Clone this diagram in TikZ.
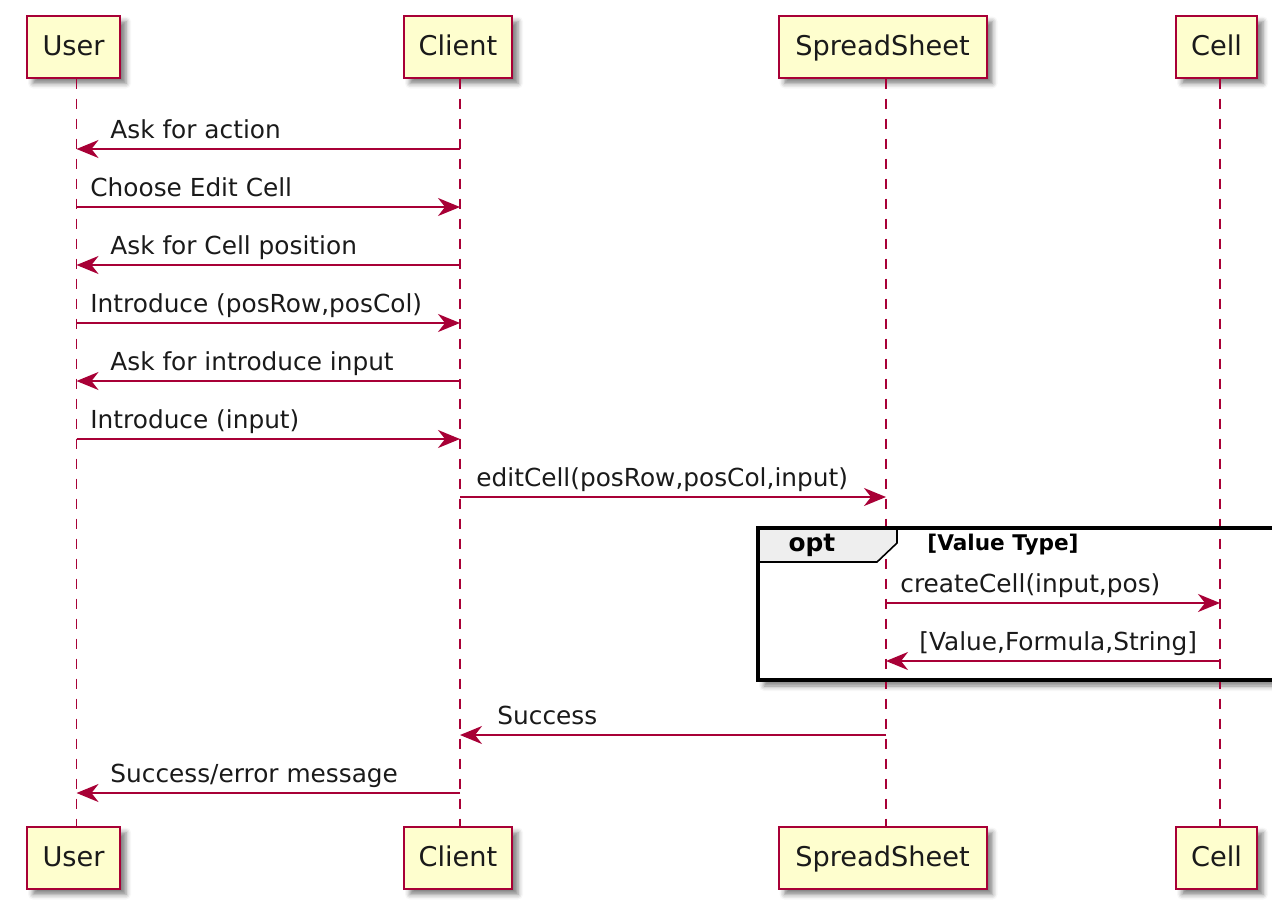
\documentclass[tikz,border=0pt]{standalone}
\usepackage{fontspec}
\setmainfont{DejaVu Sans}
\usetikzlibrary{arrows.meta,shadows.blur}
\definecolor{pumlred}{HTML}{A80036}
\definecolor{pumlfill}{HTML}{FEFECE}
\definecolor{pumltab}{HTML}{EEEEEE}
\definecolor{pumltext}{HTML}{1A1A1A}
\begin{document}
\begin{tikzpicture}[x=0.5pt,y=-0.5pt,
  pshadow/.style={blur shadow={shadow xshift=3pt, shadow yshift=-3pt, shadow blur radius=2.5pt, shadow opacity=50}},
  pbox/.style={draw=pumlred, fill=pumlfill, line width=1pt, minimum height=31pt,
    inner sep=0pt, text=pumltext, font=\fontsize{13.6}{16}\selectfont,
    text height=10pt, text depth=1pt, pshadow},
  life/.style={draw=pumlred, line width=0.8pt, dash pattern=on 5pt off 5pt},
  msg/.style={draw=pumlred, line width=0.9pt, -{Stealth[length=11pt,width=9pt,inset=3.5pt]}},
  lbl/.style={anchor=base west, inner sep=0pt, text=pumltext, font=\fontsize{12.4}{15}\selectfont},
]
\useasboundingbox (0,0) rectangle (1272,906);
\clip (0,0) rectangle (1272,906);

% lifeline x positions
\coordinate (uL) at (76.5,0);
\coordinate (cL) at (460,0);
\coordinate (sL) at (886,0);
\coordinate (kL) at (1220,0);
% message rows
\coordinate (r1) at (0,149);
\coordinate (r2) at (0,207);
\coordinate (r3) at (0,265);
\coordinate (r4) at (0,323);
\coordinate (r5) at (0,381);
\coordinate (r6) at (0,439);
\coordinate (r7) at (0,497);
\coordinate (r8) at (0,603);
\coordinate (r9) at (0,661);
\coordinate (r10) at (0,735);
\coordinate (r11) at (0,793);

% participants
\node[pbox, minimum width=46.5pt] (userT) at (73.5,46.5) {User};
\node[pbox, minimum width=54pt] (clientT) at (458,46.5) {Client};
\node[pbox, minimum width=104pt] (sheetT) at (882.5,46.5) {SpreadSheet};
\node[pbox, minimum width=40.5pt] (cellT) at (1216.5,46.5) {Cell};
\node[pbox, minimum width=46.5pt] (userB) at (73.5,857.5) {User};
\node[pbox, minimum width=54pt] (clientB) at (458,857.5) {Client};
\node[pbox, minimum width=104pt] (sheetB) at (882.5,857.5) {SpreadSheet};
\node[pbox, minimum width=40.5pt] (cellB) at (1216.5,857.5) {Cell};

% opt frame background with shadow
\fill[white, pshadow] (758,528) rectangle (1300,680);

% lifelines
\draw[life] (uL |- userT.south) -- (uL |- userB.north);
\draw[life] (cL |- clientT.south) -- (cL |- clientB.north);
\draw[life] (sL |- sheetT.south) -- (sL |- sheetB.north);
\draw[life] (kL |- cellT.south) -- (kL |- cellB.north);

% opt frame
\filldraw[fill=pumltab, draw=black, line width=0.8pt]
  (758,528) -- (897,528) -- (897,543) -- (877,562) -- (758,562) -- cycle;
\draw[black, line width=1.7pt] (758,528) rectangle (1300,680);
\node[anchor=base, inner sep=0pt, text=black, font=\fontsize{12.4}{14}\selectfont\bfseries] (optlbl) at (812,551) {opt};
\node[anchor=base west, inner sep=0pt, text=black, font=\fontsize{10.8}{13}\selectfont\bfseries] (guard) at (927,550) {[Value Type]};

% messages
\draw[msg] (cL |- r1) -- (uL |- r1);
\node[lbl] (l1) at (110,138.5) {Ask for action};
\draw[msg] (uL |- r2) -- (cL |- r2);
\node[lbl] (l2) at (90,196.5) {Choose Edit Cell};
\draw[msg] (cL |- r3) -- (uL |- r3);
\node[lbl] (l3) at (110,254.5) {Ask for Cell position};
\draw[msg] (uL |- r4) -- (cL |- r4);
\node[lbl] (l4) at (90,312.5) {Introduce (posRow,posCol)};
\draw[msg] (cL |- r5) -- (uL |- r5);
\node[lbl] (l5) at (110,370.5) {Ask for introduce input};
\draw[msg] (uL |- r6) -- (cL |- r6);
\node[lbl] (l6) at (90,428.5) {Introduce (input)};
\draw[msg] (cL |- r7) -- (sL |- r7);
\node[lbl] (l7) at (476,486.5) {editCell(posRow,posCol,input)};
\draw[msg] (sL |- r8) -- (kL |- r8);
\node[lbl] (l8) at (900,592.5) {createCell(input,pos)};
\draw[msg] (kL |- r9) -- (sL |- r9);
\node[lbl] (l9) at (919,650.5) {[Value,Formula,String]};
\draw[msg] (sL |- r10) -- (cL |- r10);
\node[lbl] (l10) at (497,724.5) {Success};
\draw[msg] (cL |- r11) -- (uL |- r11);
\node[lbl] (l11) at (110,782.5) {Success/error message};
\end{tikzpicture}
\end{document}
